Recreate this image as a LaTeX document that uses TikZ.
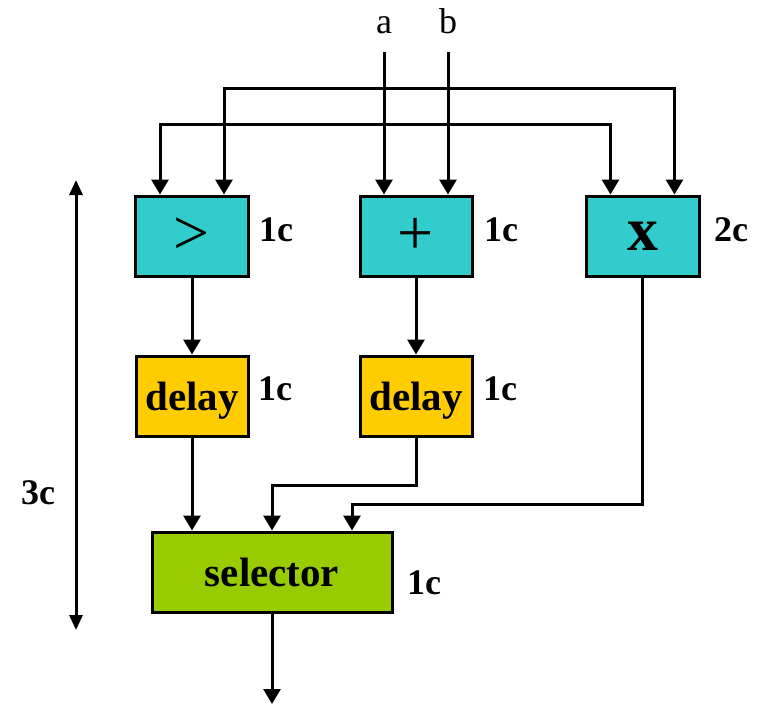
\documentclass[tikz,border=0pt]{standalone}
\usepackage{fontspec}
\setmainfont{Liberation Serif}
\usetikzlibrary{arrows.meta,calc}
\definecolor{cyanbox}{HTML}{33CCCC}
\definecolor{yellowbox}{HTML}{FFCC00}
\definecolor{greenbox}{HTML}{99CC00}
\begin{document}
\begin{tikzpicture}[x=1pt,y=-1pt,
  unit/.style={draw=black,line width=3pt,inner sep=0pt,anchor=center},
  arr/.style={line width=3pt,-{Triangle[width=17pt,length=15pt]}},
  dbl/.style={line width=3pt,{Triangle[width=13pt,length=15pt]}-{Triangle[width=13pt,length=15pt]}},
  lab/.style={font=\fontsize{36}{40}\selectfont\bfseries,inner sep=0pt},
  inlab/.style={font=\fontsize{36}{40}\selectfont,inner sep=0pt,anchor=base},
  boxtxt/.style={font=\fontsize{41}{46}\selectfont\bfseries},
  symtxt/.style={font=\fontsize{64}{68}\selectfont}]
\useasboundingbox (0,0) rectangle (763,705);
% boxes
\node[unit,fill=cyanbox,minimum width=113pt,minimum height=80pt,symtxt] (gt) at (192,236) {>};
\node[unit,fill=cyanbox,minimum width=112pt,minimum height=80pt,symtxt] (plus) at (416,236) {+};
\node[unit,fill=cyanbox,minimum width=113pt,minimum height=80pt,font=\fontsize{62}{66}\selectfont\bfseries] (times) at (642.5,236) {x};
\node[unit,fill=yellowbox,minimum width=112pt,minimum height=80pt,boxtxt,text depth=0pt] (d1) at (192,396) {delay};
\node[unit,fill=yellowbox,minimum width=112pt,minimum height=80pt,boxtxt,text depth=0pt] (d2) at (416,396) {delay};
\node[unit,fill=greenbox,minimum width=240pt,minimum height=80pt,boxtxt] (sel) at (272,572) {selector};
% latency labels
\node[lab] (l1) at (276,230) {1c};
\node[lab] (l2) at (501,230) {1c};
\node[lab] (l3) at (731,230) {2c};
\node[lab] (l4) at (275,389) {1c};
\node[lab] (l5) at (500,389) {1c};
\node[lab] (l6) at (424,583) {1c};
\node[lab] (l7) at (38,493) {3c};
% inputs
\node[inlab] (la) at (384,33) {a};
\node[inlab] (lb) at (448,33) {b};
\coordinate (atop) at (384,52);
\coordinate (btop) at (448,52);
\coordinate (abus) at (384,124);
\coordinate (bbus) at (448,88);
\draw[arr] (atop) -- (atop |- plus.north);
\draw[arr] (btop) -- (btop |- plus.north);
\draw[arr] (abus) -| ([xshift=-32pt]gt.north);
\draw[arr] (abus) -| ([xshift=-32pt]times.north);
\draw[arr] (bbus) -| ([xshift=32pt]gt.north);
\draw[arr] (bbus) -| ([xshift=32pt]times.north);
% internal connections
\draw[arr] (gt.south) -- (d1.north);
\draw[arr] (plus.south) -- (d2.north);
\draw[arr] (d1.south) -- (d1.south |- sel.north);
\draw[arr] (d2.south) -- ++(0,48) -| (sel.north);
\draw[arr] (times.south) -- ++(0,227) -| ([xshift=80pt]sel.north);
\coordinate (out) at (272,704);
\draw[arr] (sel.south) -- (out);
% 3c span
\coordinate (s3top) at (76,180);
\coordinate (s3bot) at (76,630);
\draw[dbl] (s3top) -- (s3bot);
\end{tikzpicture}
\end{document}
